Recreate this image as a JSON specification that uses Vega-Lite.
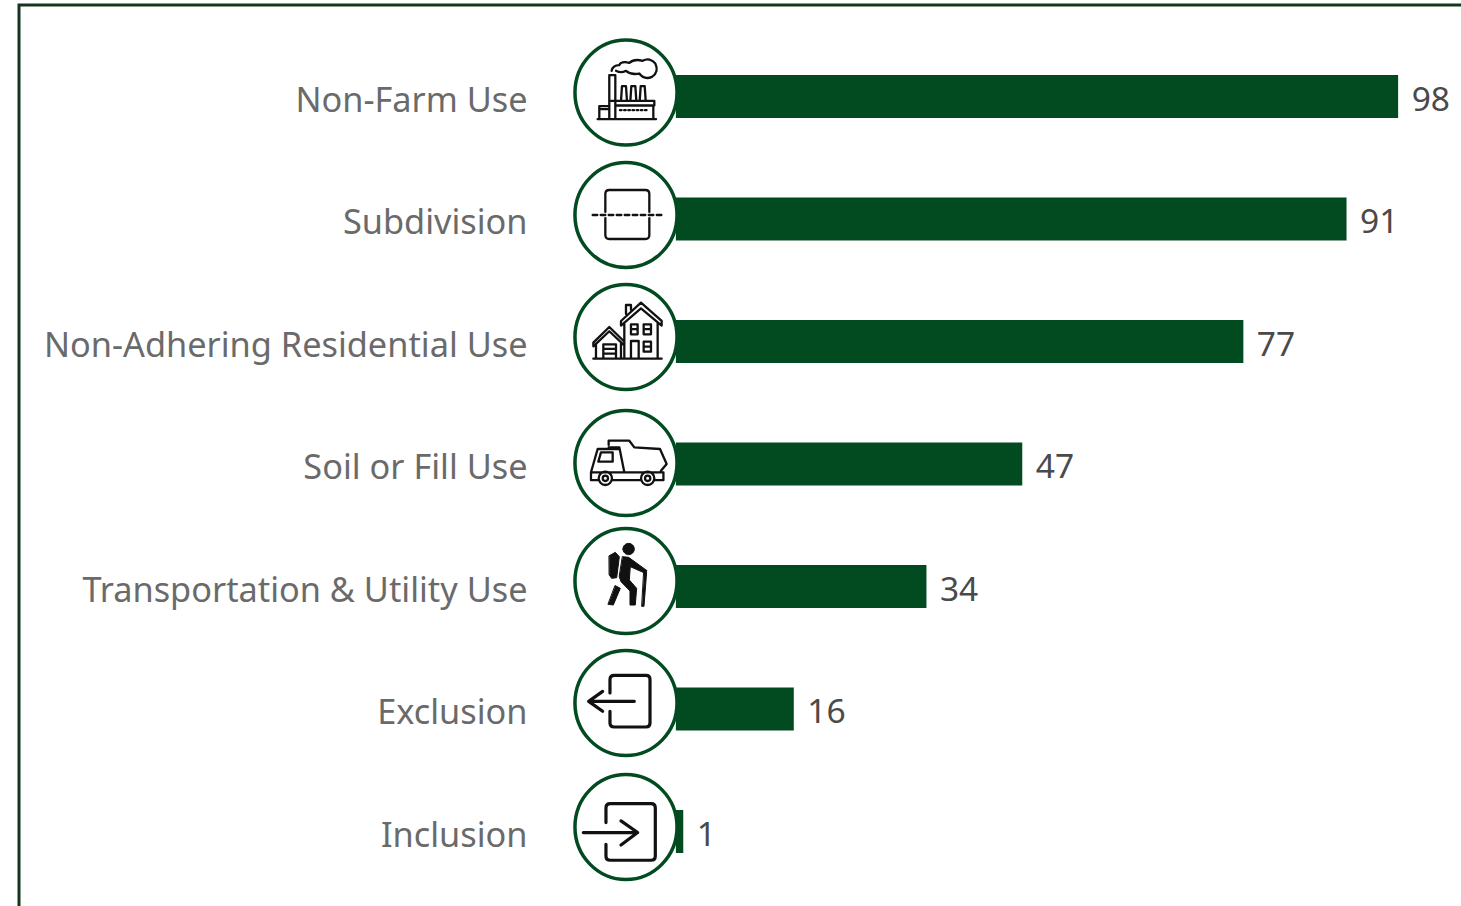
{
"$schema":"https://vega.github.io/schema/vega-lite/v6.json",
"width":1470,"height":930,
"autosize":{"type":"none"},
"padding":{"left":19,"top":5,"right":0,"bottom":0},
"background":"white",
"view":{"stroke":"#14351f","strokeWidth":3,"fill":"white"},
"data":{"values":[
{"category":"Non-Farm Use","count":98},
{"category":"Subdivision","count":91},
{"category":"Non-Adhering Residential Use","count":77},
{"category":"Soil or Fill Use","count":47},
{"category":"Transportation & Utility Use","count":34},
{"category":"Exclusion","count":16},
{"category":"Inclusion","count":1}
]},
"encoding":{
"y":{"field":"category","type":"nominal","sort":null,"title":null,
"scale":{"range":[30.25,887.75],"padding":0},
"axis":{"orient":"left","offset":-508,"domain":false,"ticks":false,"labelPadding":0,"labelLimit":800,"labelFont":"Noto Sans","labelFontSize":34.3,"labelColor":"#6a6a6a","labelOffset":5,"grid":false}}
},
"layer":[
{"mark":{"type":"bar","size":43,"color":"#024b20"},
"encoding":{"x":{"field":"count","type":"quantitative","title":null,"scale":{"domain":[-89.13,110.33],"nice":false,"zero":false},"axis":null}}},
{"mark":{"type":"point","filled":true,"fill":"white","stroke":"#024b20","strokeWidth":3.5,"size":11025,"opacity":1,
"yOffset":{"expr":"{'Non-Farm Use':-4,'Subdivision':-4,'Non-Adhering Residential Use':-4.5,'Soil or Fill Use':-1,'Transportation & Utility Use':-5.5,'Exclusion':-6,'Inclusion':-4.5}[datum.category]"},
"shape":"M-0.972 0A0.972 1 0 1 1 0.972 0A0.972 1 0 1 1 -0.972 0Z"},
"encoding":{"x":{"datum":-6.77}}},
{"mark":{"type":"point","filled":false,"strokeCap":"round","strokeJoin":"round","size":10816,"opacity":1,
"strokeWidth":{"expr":"datum.category==='Exclusion'||datum.category==='Inclusion'?3.2:datum.category==='Transportation & Utility Use'?1:2.3"},
"yOffset":{"expr":"{'Non-Farm Use':-4,'Subdivision':-4,'Non-Adhering Residential Use':-4.5,'Soil or Fill Use':-1,'Transportation & Utility Use':-5.5,'Exclusion':-6,'Inclusion':-4.5}[datum.category]"}},
"encoding":{"x":{"datum":-6.77},
"stroke":{"value":"#111111"},
"fill":{"condition":{"test":"datum.category==='Transportation & Utility Use'","value":"#111111"},"value":"transparent"},
"shape":{"field":"category","type":"nominal","legend":null,"scale":{
"domain":["Non-Farm Use","Subdivision","Non-Adhering Residential Use","Soil or Fill Use","Transportation & Utility Use","Exclusion","Inclusion"],
"range":[
"M-0.545 0.513H0.577M-0.321 0.513V-0.333H-0.205V0.513M-0.288 0.16H0.545V0.25H-0.205M0.526 0.25V0.513M-0.513 0.513V0.263H-0.321M-0.513 0.32H-0.321M-0.096 0.16L-0.077 -0.122H0L0.019 0.16M0.084 0.16L0.103 -0.122H0.18L0.199 0.16M0.264 0.16L0.283 -0.122H0.36L0.379 0.16M-0.115 0.34h0.03M-0.035 0.34h0.03M0.045 0.34h0.03M0.125 0.34h0.03M0.205 0.34h0.03M0.285 0.34h0.03M0.365 0.34h0.03M-0.276 -0.417Q-0.256 -0.526 -0.128 -0.526Q-0.096 -0.609 0.064 -0.571Q0.16 -0.654 0.321 -0.609Q0.449 -0.686 0.564 -0.558Q0.641 -0.397 0.5 -0.301Q0.353 -0.237 0.256 -0.365Q0.096 -0.333 0 -0.417Q-0.096 -0.365 -0.192 -0.417",
"M-0.397 -0.06V-0.404Q-0.397 -0.481 -0.32 -0.481H0.372Q0.449 -0.481 0.449 -0.404V-0.06M-0.397 0.06V0.385Q-0.397 0.462 -0.32 0.462H0.372Q0.449 0.462 0.449 0.385V0.06M-0.641 0H-0.551M-0.487 0H-0.397M-0.333 0H-0.243M-0.179 0H-0.089M-0.025 0H0.065M0.129 0H0.219M0.283 0H0.373M0.437 0H0.527M0.591 0H0.681",
"M-0.628 0.417H0.686M-0.096 -0.308L0.288 -0.66L0.686 -0.308V-0.22L0.288 -0.55L-0.096 -0.22ZM-0.032 -0.28V0.417M0.609 -0.28V0.417M0 -0.44V-0.615H0.096V-0.52M0.096 -0.244H0.224V-0.051H0.096ZM0.096 -0.15H0.224M0.34 -0.244H0.481V-0.051H0.34ZM0.34 -0.15H0.481M0.34 0.09H0.481V0.282H0.34ZM0.34 0.186H0.481M0.096 0.417V0.077H0.244V0.417M-0.628 0.109L-0.321 -0.192L-0.045 0.077M-0.628 0.109V0.18L-0.321 -0.11L-0.032 0.16M-0.577 0.14V0.417M-0.096 0.12V0.417M-0.436 0.417V0.141H-0.192V0.417M-0.436 0.23H-0.192M-0.436 0.32H-0.192",
"M-0.333 -0.346V-0.429H0.064L0.16 -0.301L0.654 -0.269L0.782 0.019L0.673 0.147V0.179H-0.032L-0.128 -0.301H-0.333M-0.128 -0.269H-0.545L-0.673 0.179V0.33H-0.525M-0.673 0.179H-0.032M-0.481 -0.205H-0.256V-0.026H-0.532ZM-0.269 0.33H0.289M0.545 0.33H0.72V0.179H0.673M-0.525 0.295A0.128 0.128 0 1 1 -0.269 0.295A0.128 0.128 0 1 1 -0.525 0.295M-0.448 0.295A0.051 0.051 0 1 1 -0.346 0.295A0.051 0.051 0 1 1 -0.448 0.295M0.289 0.295A0.128 0.128 0 1 1 0.545 0.295A0.128 0.128 0 1 1 0.289 0.295M0.366 0.295A0.051 0.051 0 1 1 0.468 0.295A0.051 0.051 0 1 1 0.366 0.295",
"M-0.058 -0.615A0.109 0.109 0 1 1 0.16 -0.615A0.109 0.109 0 1 1 -0.058 -0.615ZM-0.064 -0.468L0.051 -0.455L0.404 -0.199L0.372 -0.147L0.083 -0.276L0.064 -0.019L0.205 0.141L0.179 0.462L0.077 0.462L0.077 0.192L-0.096 0.013L-0.128 -0.083ZM-0.205 0.09L-0.109 0.141L-0.244 0.462L-0.34 0.449ZM0.346 -0.167L0.397 -0.167L0.346 0.487L0.308 0.487ZM-0.321 -0.487L-0.205 -0.551L-0.128 -0.468L-0.179 -0.064L-0.276 -0.051L-0.321 -0.115Z",
"M-0.308 -0.192V-0.449Q-0.308 -0.532 -0.224 -0.532H0.385Q0.462 -0.532 0.462 -0.449V0.385Q0.462 0.462 0.385 0.462H-0.224Q-0.308 0.462 -0.308 0.385V0.16M0.16 -0.032H-0.718M-0.449 -0.224L-0.718 -0.032L-0.449 0.16",
"M-0.385 -0.085V-0.367Q-0.385 -0.45 -0.301 -0.45H0.481Q0.564 -0.45 0.564 -0.367V0.556Q0.564 0.639 0.481 0.639H-0.301Q-0.385 0.639 -0.385 0.556V0.332M-0.821 0.107H0.224M-0.096 -0.117L0.224 0.107L-0.096 0.345"
]}}}},
{"mark":{"type":"text","align":"left","baseline":"middle","dx":13.5,"dy":4,"font":"Noto Sans","fontSize":33.5,"color":"#4a4a4a"},
"encoding":{"x":{"field":"count","type":"quantitative"},"text":{"field":"count","type":"quantitative"}}}
]
}
